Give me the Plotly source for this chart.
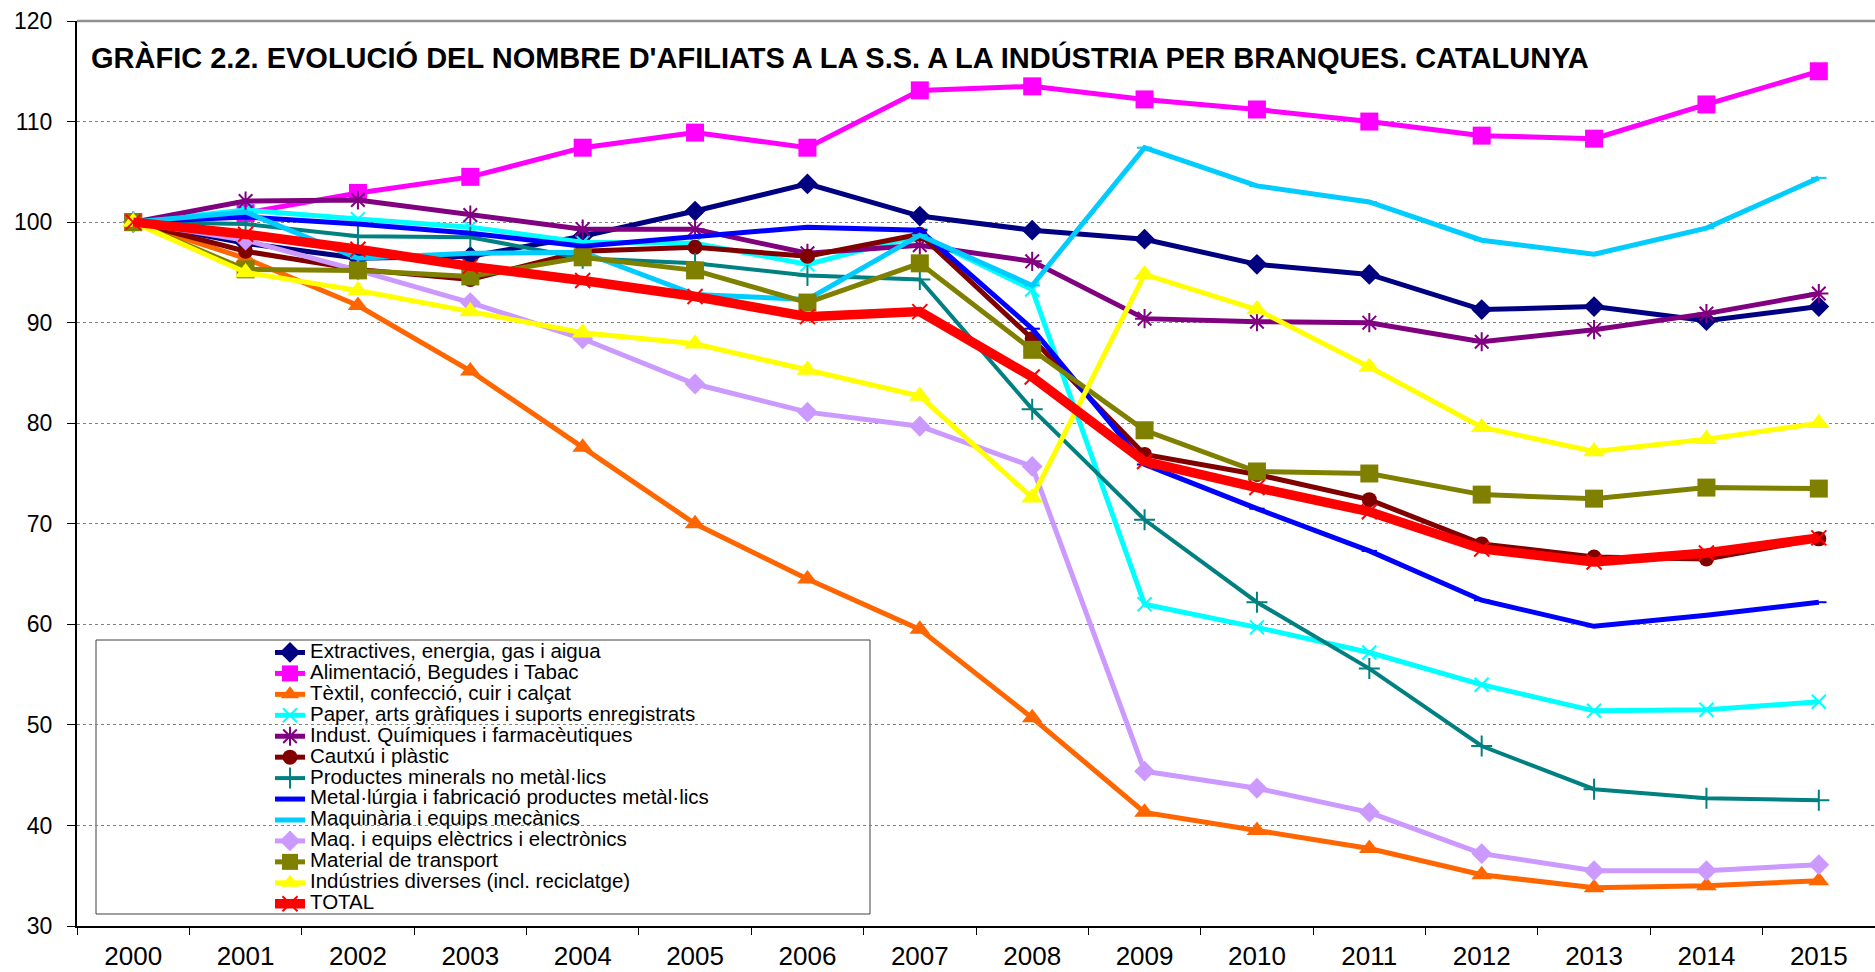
import plotly.graph_objects as go

years = [str(y) for y in range(2000, 2016)]

names = [
    "Extractives, energia, gas i aigua",
    "Alimentació, Begudes i Tabac",
    "Tèxtil, confecció, cuir i calçat",
    "Paper, arts gràfiques i suports enregistrats",
    "Indust. Químiques i farmacèutiques",
    "Cautxú i plàstic",
    "Productes minerals no metàl·lics",
    "Metal·lúrgia i fabricació productes metàl·lics",
    "Maquinària i equips mecànics",
    "Maq. i equips elèctrics i electrònics",
    "Material de transport",
    "Indústries diverses (incl. reciclatge)",
    "TOTAL",
]

extractives = [100, 97.9, 96.4, 96.6, 98.6, 101.1, 103.8, 100.6, 99.2, 98.3, 95.8, 94.8, 91.3, 91.6, 90.2, 91.6]
alimentacio = [100, 100.9, 102.9, 104.5, 107.4, 108.9, 107.4, 113.1, 113.5, 112.2, 111.2, 110.0, 108.6, 108.3, 111.7, 115.0]
textil = [100, 96.4, 91.7, 85.2, 77.6, 70.0, 64.5, 59.5, 50.7, 41.3, 39.5, 37.7, 35.1, 33.8, 34.0, 34.5]
paper = [100, 101.2, 100.3, 99.5, 98.0, 97.9, 95.8, 98.7, 93.3, 62.0, 59.7, 57.2, 54.0, 51.4, 51.5, 52.3]
quimiques = [100, 102.1, 102.2, 100.7, 99.3, 99.3, 96.9, 97.7, 96.1, 90.4, 90.1, 90.0, 88.1, 89.3, 90.9, 92.9]
cautxu = [100, 97.1, 95.3, 94.3, 97.1, 97.5, 96.6, 98.8, 88.4, 76.9, 74.9, 72.4, 68.0, 66.7, 66.5, 68.5]
minerals = [100, 99.8, 98.6, 98.5, 96.4, 95.9, 94.7, 94.3, 81.4, 70.4, 62.2, 55.6, 47.9, 43.6, 42.7, 42.5]
metallurgia = [100, 100.5, 99.8, 98.9, 97.6, 98.6, 99.5, 99.2, 89.4, 75.9, 71.5, 67.3, 62.4, 59.8, 60.9, 62.2]
maquinaria = [100, 101.0, 96.4, 96.9, 97.0, 92.8, 92.3, 98.7, 93.7, 107.4, 103.6, 102.0, 98.2, 96.8, 99.4, 104.4]
electrics = [100, 98.2, 95.2, 92.0, 88.4, 83.9, 81.1, 79.7, 75.7, 45.4, 43.7, 41.3, 37.2, 35.5, 35.5, 36.1]
transport = [100, 95.3, 95.2, 94.6, 96.5, 95.2, 92.0, 95.9, 87.3, 79.3, 75.2, 75.0, 72.9, 72.5, 73.6, 73.5]
diverses = [100, 95.0, 93.2, 91.1, 89.0, 87.9, 85.3, 82.7, 72.6, 94.8, 91.3, 85.6, 79.6, 77.2, 78.4, 80.0]
total = [100, 98.8, 97.3, 95.6, 94.2, 92.6, 90.6, 91.1, 84.6, 76.2, 73.6, 71.2, 67.5, 66.2, 67.1, 68.6]

series = [extractives, alimentacio, textil, paper, quimiques, cautxu, minerals,
          metallurgia, maquinaria, electrics, transport, diverses, total]

colors = ["#000080", "#FF00FF", "#FF6600", "#00FFFF", "#800080", "#800000", "#008080",
          "#0000FF", "#00CCFF", "#CC99FF", "#808000", "#FFFF00", "#FF0000"]
symbols = ["diamond", "square", "triangle-up", "x-thin", "asterisk", "circle", "cross-thin",
           "line-ew", "line-ew", "diamond", "square", "triangle-up", "x-thin"]
sizes = [16, 18, 18, 14, 16, 15, 15, 11, 11, 16, 18, 19, 15]
widths = [5, 5, 5, 5, 5, 5, 4, 5, 5, 5, 5, 5, 9.5]

FONT = "Liberation Sans, Arial, sans-serif"

fig = go.Figure()
for nm, vals, c, s, sz, w in zip(names, series, colors, symbols, sizes, widths):
    open_sym = s in ("x-thin", "asterisk", "cross-thin", "line-ew")
    fig.add_trace(go.Scatter(
        x=years, y=vals, name='<span style="font-size:20.5px">' + nm + '</span>',
        mode="lines+markers",
        line=dict(color=c, width=w),
        marker=dict(symbol=s, size=sz, color=c,
                    line=dict(color=c, width=2 if open_sym else 0)),
    ))

L, T, B = 77, 21, 46
W, H = 1875, 972
pw, ph = W - L, H - T - B

def px(x):
    return (x - L) / pw

def py(y):
    return (H - B - y) / ph

fig.update_layout(
    width=W, height=H,
    margin=dict(l=L, r=0, t=T, b=B, autoexpand=False),
    paper_bgcolor="white", plot_bgcolor="white",
    font=dict(family=FONT, color="black"),
    showlegend=True,
    legend=dict(
        x=px(270), y=py(637), xanchor="left", yanchor="top",
        bgcolor="rgba(0,0,0,0)", borderwidth=0,
        font=dict(family=FONT, size=13.8, color="black"),
        tracegroupgap=0, itemsizing="trace",
    ),
    xaxis=dict(
        type="category", range=[-0.5, 15.5], automargin=False,
        showline=True, linecolor="black", linewidth=2,
        ticks="outside", tickson="boundaries", ticklen=7, tickcolor="black", tickwidth=1,
        ticklabelstandoff=6,
        showgrid=False, zeroline=False,
        tickfont=dict(family=FONT, size=26),
    ),
    yaxis=dict(
        range=[30, 120], dtick=10, tick0=30, automargin=False,
        showline=True, linecolor="black", linewidth=2,
        ticks="outside", ticklen=8, tickcolor="black",
        ticklabelstandoff=10,
        showgrid=True, gridcolor="#808080", griddash="dot", gridwidth=1,
        zeroline=False,
        tickfont=dict(family=FONT, size=23),
    ),
    shapes=[
        dict(type="line", xref="paper", yref="paper", x0=0, x1=1, y0=1, y1=1,
             line=dict(color="#909090", width=2.5)),
        dict(type="rect", xref="paper", yref="paper",
             x0=px(96), x1=px(870), y0=py(914), y1=py(640),
             line=dict(color="#404040", width=1), fillcolor="rgba(0,0,0,0)", layer="below"),
    ],
    annotations=[
        dict(text="<b>GRÀFIC 2.2. EVOLUCIÓ DEL NOMBRE D'AFILIATS A LA S.S. A LA INDÚSTRIA PER BRANQUES. CATALUNYA</b>",
             xref="paper", yref="paper", x=px(89), y=py(57), xanchor="left", yanchor="middle",
             showarrow=False, font=dict(family=FONT, size=29, color="black")),
    ],
)

fig.write_html(
    "out.html",
    config={"displayModeBar": False},
    post_script="document.body.style.margin='0';document.body.style.overflow='hidden';",
)
